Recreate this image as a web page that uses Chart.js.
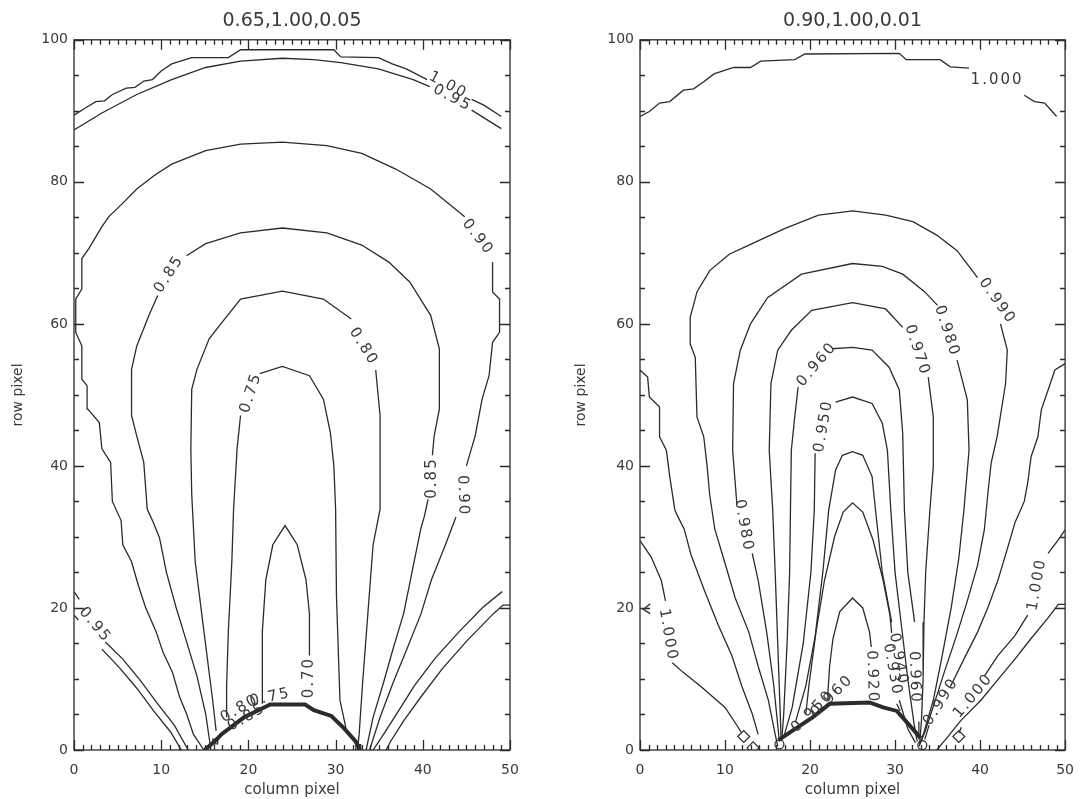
<!DOCTYPE html>
<html>
<head>
<meta charset="utf-8">
<title>Contour maps</title>
<script src="https://cdn.jsdelivr.net/npm/chart.js@4.4.1/dist/chart.umd.min.js"></script>
<style>
    html, body { margin: 0; padding: 0; background: #fff; }
    #wrap { position: relative; width: 1086px; height: 799px; }
    canvas { position: absolute; top: 0; }
    #leftChart { left: 0; }
    #rightChart { left: 543px; }
</style>
</head>
<body>
<div id="wrap">
    <canvas id="leftChart" width="543" height="799"></canvas>
    <canvas id="rightChart" width="543" height="799"></canvas>
</div>
<script>
// Axis ranges and tick steps
const xRange = [0, 50];
const yRange = [0, 100];
const xMajorStep = 10, xMinorStep = 1;
const yMajorStep = 20, yMinorStep = 5;

const leftTitle = '0.65,1.00,0.05';
const rightTitle = '0.90,1.00,0.01';

// ---- Left panel contours (column, row); null = gap where a label sits ----
const leftC100Top = [[0,89.4],[1.3,90.4],[2.5,91.3],[3.5,91.4],[4.4,92.3],[6,93.2],[7,93.3],[8,94.2],[9,94.4],[10,95.6],[11.2,96.6],[13.5,97.5],[17.7,97.5],[19.1,98.6],[29.8,98.6],[30.6,97.6],[34.9,97.5],[36.5,96.6],[38.1,95.9],[40.5,94.4],null,[45.6,91.6],[47,90.8],[49,89.2]];
const leftC095Top = [[0,87.3],[3.2,89.7],[7.2,92.3],[11.2,94.4],[15.1,96.1],[19.1,97],[23.9,97.4],[27.5,97.2],[30.6,96.8],[34.9,95.9],[38.9,94.4],[40.8,93.4],null,[45.6,90.1],[49,87.5]];
const leftC090 = [[14.9,0],[13.7,2.2],[12.9,5.1],[12.1,7.5],[11.3,10.9],[10.2,13.8],[9.4,16.7],[8.2,20.1],[7.4,23.1],[6.6,26.5],[5.6,28.9],[5.4,32.3],[4.4,35],[4.2,40.5],[3.2,42.4],[2.9,46.1],[1.6,48],[1.5,51.3],[0.9,52.2],[0.9,56.9],[0.2,58.8],[0.2,63.5],[0.9,64.9],[0.9,69.2],[1.7,70.6],[3.2,73.7],[4,75.1],[5.6,77],[7.2,79],[9.2,80.9],[11.2,82.5],[15.1,84.4],[19.1,85.3],[23.9,85.6],[29,85.1],[33,84],[36.9,81.8],[40.9,79],[43.3,76.6],[44.8,75.1],null,[48,68.7],[48,64.5],[48.8,63.5],[48.8,58.8],[48,57.4],[47.6,52.7],[46.8,49.4],[46,44.2],[45,40],null,[43.8,32.8],[42.6,28.9],[41,24],[39.8,19.2],[38.2,14.3],[36.6,9.5],[35.1,4.6],[33.9,0]];
const leftC085 = [[15.7,0],[15.1,5.1],[14.1,10.4],[12.9,15.3],[11.7,20.1],[10.6,25],[9.8,29.9],[9,32.3],[8.4,33.9],[8,40.5],[7.2,44.2],[6.6,47.1],[6.6,53.6],[7.2,56.9],[8.6,61.2],[9.6,64],null,[12.9,69.6],[15.1,71.3],[19.1,72.8],[23.9,73.5],[29,72.8],[33,71.1],[36.1,68.7],[38.5,65.9],[40.9,61.2],[41.9,56.5],[41.9,48],[41.3,44.2],[41.1,41.5],null,[40.6,35.3],[40.2,33],[39.8,31.3],[39,26.5],[37.8,19.2],[36.6,14.3],[35.5,9.5],[34.3,4.6],[33.5,0]];
const leftC080 = [[16.3,2.7],[15.9,7],[14.9,16.7],[13.9,26.5],[13.5,36],[13.4,42.4],[13.5,50.8],[14.1,53.6],[15.5,57.9],[16.7,59.8],[19.1,63.5],[23.9,64.6],[28.6,63.5],[31.8,60.7],null,[34.6,53.5],[35.1,47.1],[35.1,33.9],[34.3,28.9],[33.7,19.2],[33.1,9.5],[32.7,2.2],[32.5,0]];
const leftC075 = [[17.5,4.6],[17.5,9],[17.7,16.7],[18.1,26.5],[18.3,33.9],[18.7,42.4],[19.1,47.1],null,[21.3,53],[23.9,54],[27,52.7],[28.6,49.4],[29.4,44.7],[29.8,40],[30,33.9],[30.1,21.6],[30.5,7],[31.2,3]];
const leftC070 = [[21.6,6.5],[21.6,16.7],[22,24],[22.8,28.9],[24.2,31.6],[25.6,28.9],[26.6,24],[27,19.2],[27,13.3]];
const leftC095Low = [[0,22.3],[0.6,21.2],null,[3.6,15.2],[5.6,12.8],[7.6,9.8],[9.6,6.5],[11.5,3.5],[13.1,0]];
const leftC100Low = [[0,19],[0.5,18.3],null,[3.2,14.2],[5.2,11.6],[7.2,8.7],[9.2,5.4],[11.1,2.5],[12.3,0]];
const leftC095LowR = [[49.1,22.3],[46.9,20.1],[44.2,16.7],[41.4,12.9],[39,9],[37,5.1],[35.5,2.2],[34.3,0]];
const leftC100LowR = [[50,20.4],[49.2,20.4],[48.1,19.2],[45,15.3],[42.2,11.4],[39.8,7.5],[37.8,4.1],[36.3,1.2],[35.8,0]];
const leftBundle = [[15,0],[16.2,1.3],[17,2.3],[19.5,4.6],[21.5,5.8],[22.5,6.4],[26.5,6.4],[27.5,5.6],[29.5,4.8],[31,3],[32.3,1.2],[32.8,0]];
const leftSquares = [[16.2,1.2],[32.6,0.4]];

const leftLabels = [
    { text: '1.00', x: 42.9, y: 93.6, angle: 28 },
    { text: '0.95', x: 43.4, y: 91.8, angle: 28 },
    { text: '0.90', x: 46.3, y: 72.2, angle: 52 },
    { text: '0.85', x: 10.9, y: 67.0, angle: -57 },
    { text: '0.80', x: 33.2, y: 56.8, angle: 58 },
    { text: '0.75', x: 20.3, y: 50.3, angle: -72 },
    { text: '0.85', x: 41.1, y: 38.3, angle: -90 },
    { text: '0.90', x: 44.6, y: 35.8, angle: 88 },
    { text: '0.95', x: 2.4, y: 17.6, angle: 50 },
    { text: '0.70', x: 27.0, y: 10.2, angle: -90 },
    { text: '0.80', x: 19.0, y: 5.8, angle: -30 },
    { text: '0.85', x: 19.8, y: 4.6, angle: -30 },
    { text: '0.75', x: 22.5, y: 7.4, angle: -12 }
];

// ---- Right panel contours ----
const rightC1000Top = [[0,89.2],[1.1,89.9],[2.3,91.1],[3.5,91.3],[5.1,92.9],[6.3,93.1],[7.5,94.1],[8.7,95.2],[11,96.1],[13,96.1],[14.2,97],[18.2,97.2],[19.4,98],[30.5,98.1],[31.3,97.2],[35.3,97.2],[36.5,96.2],[38.7,96],null,[45.2,92.2],[46.4,91.3],[47.6,91.1],[49,89.2]];
const rightC0990 = [[16.2,0.5],[15.9,2.2],[15.1,7],[13.9,11.8],[12.8,16.6],[11.2,21.4],[10,26.3],[8.8,31.1],[8.2,35.9],[7.9,39.9],[7.5,44.1],[6.7,46.9],[6.5,55.3],[5.9,57.2],[5.9,60.9],[6.7,64.5],[8.2,67.5],[10.5,69.8],[13,71.2],[17,73.4],[21,75.3],[25,75.9],[28.9,75.3],[32.1,74.4],[34.9,72.5],[37.3,70.3],[39.7,66.5],null,[42.4,60],[43.2,56.3],[43,51.6],[42,44.1],[41.3,40.4],[40.9,35.9],[40.5,31],[39.7,26],[38.5,21],[37.2,16],[35.8,11],[34.6,6.5],[33.5,2.5],[32.8,0.5]];
const rightC0980 = [[16.4,1.2],[15.7,9.4],[14.9,16.6],[13.9,23.9],[13.2,27.7],null,[11.4,34.5],[10.9,42.2],[11,51.6],[11.8,56.3],[13,60],[15,63.7],[19,67],[25,68.5],[28.5,68.1],[30.9,67],[33.5,64.5],[35,62.6],null,[37.3,54.9],[38.5,49.3],[38.7,42.2],[38.1,33.8],[37.5,27],[36.6,20],[35.5,13],[34.5,7],[33.4,2.5],[32.9,0.8]];
const rightC0970 = [[16.6,1.5],[16.5,5],[16.2,15],[15.9,25],[15.6,34],[15.2,42.2],[15.4,51.6],[16.2,56.3],[17.8,59.1],[20.2,61.9],[25,63],[28.9,62.1],[30.9,59.5],null,[33.9,52.5],[34.5,46.9],[34.5,39.9],[34.1,33.8],[33.6,25],[33.4,18],[33.3,10],[33.1,4],[32.9,1]];
const rightC0960 = [[16.7,1.8],[16.9,5],[17.3,15],[17.6,25],[17.7,34],[17.8,42.2],[18.2,46.9],[18.6,51.1],null,[22.6,56.5],[25,56.7],[27.3,56.3],[29.3,53.9],[30.5,50.7],[30.9,44.6],[31.1,33.8],[31.5,25],[32.3,18],null,[32.8,4],[32.8,1.5]];
const rightC0950 = [[17,2.2],[17.9,6],[19.2,15],[20.1,25],[20.5,33.8],[20.6,41.8],null,[23,49],[25,49.7],[27.3,48.8],[28.5,46],[29.1,42.2],[29.5,33.8],[30,25],[30.8,17],[31.5,10],[32.2,4],[32.6,1.2]];
const rightC0940 = [[18.3,4],[19.5,9],[20.6,16],[21.5,25],[22.2,33.8],[22.6,36.6],[23,39.4],[23.8,41.5],[25,42],[26.2,41.5],[27.3,38.5],[27.7,33.8],[28.5,25],[29.6,18],null,[30.5,7],[31.5,3],[32.4,1]];
const rightC0930 = [[19.5,5.1],[19.9,9.4],[20.7,16.6],[21.7,23.9],[22.9,30.1],[23.9,33.5],[25,34.8],[26.2,33.5],[27.4,29.6],[28.6,23.9],[29.4,19],[29.6,16.5],null,[30.2,6.5],[30.6,5.5]];
const rightC0920 = [[22.1,7],[22.1,8],[22.3,11.8],[22.7,15.7],[23.5,19.5],[25,21.4],[26.2,20],[27,16.6],[27.2,14.5]];
const rightC1000LowA = [[0,29.5],[1.3,27.2],[2.5,23.9],[3,21],null,[3.8,12.3],[5,11],[7.2,8.9],[10,6],[11.6,3.1],[11.9,2.5]];
const rightC1000Nick = [[1.2,20.6],[0.4,19.8],[1.2,19.2]];
const rightC1000LowB = [[0,53.5],[0.9,52.5],[1.1,49.7],[2.3,48.3],[2.3,44.1],[3.1,42.2],[3.5,38.5],[4.1,33.8],[4.4,33],[5.2,31.1],[6,27.5],[7.6,22.4],[9.2,17.6],[10.8,13.3],[12,8.9],[13.2,5.1],[13.9,2.2]];
const rightC1000LowR1 = [[50,20.5],[49.2,20.5],[48,18.6],[46,15.7],[44.1,12.8],[42.1,9.9],[40.1,7],[37.7,4.1],[36.1,1.7],[34.9,0]];
const rightC1000LowR2 = [[50,31],[49.2,29.6],[48,27.7],null,[45.6,19],[44.1,16.1],[42.1,13.3],[40.5,10.4],null,[37.8,3.2],[37.5,2.4]];
const rightC1000LowR3 = [[50,54.4],[48.8,53.5],[48,50.7],[47.2,47.9],[46.8,44.1],[46,41.3],[45.6,37.6],[45.2,35],[44.1,32],[43.3,28.7],[42.1,23.9],[40.9,20],[39.7,16.6],[38.1,12.8],[36.5,8.9],null,[34,3.5],[33.5,1.5]];
const rightBundle = [[16.3,1.4],[17.9,2.7],[20.3,4.6],[22.3,6.5],[27,6.7],[28.6,6],[30.2,5.5],[31.4,3.9],[33,1.7]];
const rightDiamonds = [[12.2,1.9],[13.3,0.3],[37.5,1.9]];
const rightCircles = [[16.4,0.8],[33.2,0.7]];

const rightLabels = [
    { text: '1.000', x: 42.0, y: 94.3, angle: 0 },
    { text: '0.990', x: 42.0, y: 63.2, angle: 55 },
    { text: '0.980', x: 36.1, y: 59.0, angle: 72 },
    { text: '0.970', x: 32.6, y: 56.3, angle: 72 },
    { text: '0.960', x: 20.8, y: 54.3, angle: -50 },
    { text: '0.950', x: 21.6, y: 45.6, angle: -80 },
    { text: '0.980', x: 12.2, y: 31.6, angle: 80 },
    { text: '1.000', x: 3.3, y: 16.2, angle: 80 },
    { text: '1.000', x: 46.7, y: 23.3, angle: -80 },
    { text: '0.920', x: 27.3, y: 10.3, angle: 88 },
    { text: '0.930', x: 29.7, y: 11.3, angle: 80 },
    { text: '0.940', x: 30.4, y: 12.8, angle: 80 },
    { text: '0.960', x: 32.3, y: 10.2, angle: 88 },
    { text: '0.950', x: 20.3, y: 5.4, angle: -45 },
    { text: '0.960', x: 22.6, y: 7.6, angle: -45 },
    { text: '0.990', x: 35.4, y: 6.8, angle: -58 },
    { text: '1.000', x: 39.2, y: 7.6, angle: -50 }
];

const INK = '#2b2b2b';
const FONT = 'DejaVu Sans';

// [x, y] pairs -> chart points; null breaks the line
function toPoints(arr) {
    return arr.map(p => p ? { x: p[0], y: p[1] } : { x: null, y: null });
}

function contourSet(arr, width) {
    return {
        data: toPoints(arr),
        showLine: true,
        borderColor: INK,
        borderWidth: width || 1.3,
        pointRadius: 0,
        spanGaps: false,
        tension: 0
    };
}

function markSet(arr, style, radius) {
    return {
        data: toPoints(arr),
        showLine: false,
        pointStyle: style,
        pointRadius: radius,
        borderColor: INK,
        borderWidth: 1.2,
        backgroundColor: 'rgba(0,0,0,0)'
    };
}

// Frame with inward ticks on all four sides
const frameTicks = {
    id: 'frameTicks',
    afterDatasetsDraw(chart) {
        const { ctx, chartArea: a, scales: { x, y } } = chart;
        ctx.save();
        ctx.strokeStyle = INK;
        ctx.lineWidth = 1.3;
        ctx.strokeRect(a.left, a.top, a.width, a.height);
        ctx.beginPath();
        for (let v = xRange[0]; v <= xRange[1]; v += xMinorStep) {
            const px = Math.round(x.getPixelForValue(v)) + 0.5;
            const len = v % xMajorStep === 0 ? 10 : 5;
            ctx.moveTo(px, a.bottom); ctx.lineTo(px, a.bottom - len);
            ctx.moveTo(px, a.top); ctx.lineTo(px, a.top + len);
        }
        for (let v = yRange[0]; v <= yRange[1]; v += yMinorStep) {
            const py = Math.round(y.getPixelForValue(v)) + 0.5;
            const len = v % yMajorStep === 0 ? 10 : 5;
            ctx.moveTo(a.left, py); ctx.lineTo(a.left + len, py);
            ctx.moveTo(a.right, py); ctx.lineTo(a.right - len, py);
        }
        ctx.stroke();
        ctx.restore();
    }
};

// Rotated level labels placed on the contour gaps
const levelLabels = {
    id: 'levelLabels',
    afterDatasetsDraw(chart, args, opts) {
        const { ctx, scales: { x, y } } = chart;
        ctx.save();
        ctx.fillStyle = '#3a3a3a';
        ctx.font = '15px "' + FONT + '"';
        ctx.letterSpacing = '2px';
        ctx.textAlign = 'center';
        ctx.textBaseline = 'middle';
        (opts.items || []).forEach(l => {
            ctx.save();
            ctx.translate(x.getPixelForValue(l.x), y.getPixelForValue(l.y));
            ctx.rotate(l.angle * Math.PI / 180);
            ctx.fillText(l.text, 0, 0);
            ctx.restore();
        });
        ctx.restore();
    }
};

function drawPanel(canvasId, title, datasets, labels, yAxisWidth, padRight, yTitlePad) {
    const ctx = document.getElementById(canvasId).getContext('2d');
    return new Chart(ctx, {
        type: 'scatter',
        data: { datasets: datasets },
        plugins: [frameTicks, levelLabels],
        options: {
            responsive: false,
            animation: false,
            devicePixelRatio: 1,
            layout: { padding: { left: 0, right: padRight, top: 0, bottom: 0 } },
            plugins: {
                legend: { display: false },
                tooltip: { enabled: false },
                title: {
                    display: true,
                    text: title,
                    fullSize: false,
                    color: '#3a3a3a',
                    font: { family: FONT, size: 19, weight: 'normal' },
                    padding: { top: 10, bottom: 7 }
                },
                levelLabels: { items: labels }
            },
            scales: {
                x: {
                    type: 'linear',
                    min: xRange[0],
                    max: xRange[1],
                    grid: { display: false, drawTicks: false },
                    border: { display: false },
                    ticks: { stepSize: xMajorStep, color: '#3a3a3a', padding: 12, font: { family: FONT, size: 14 } },
                    title: { display: true, text: 'column pixel', color: '#3a3a3a', font: { family: FONT, size: 15 }, padding: { top: 0, bottom: 0 } },
                    afterFit: s => { s.height = 49; }
                },
                y: {
                    type: 'linear',
                    min: yRange[0],
                    max: yRange[1],
                    grid: { display: false, drawTicks: false },
                    border: { display: false },
                    ticks: { stepSize: yMajorStep, color: '#3a3a3a', padding: 6, font: { family: FONT, size: 14 } },
                    title: { display: true, text: 'row pixel', color: '#3a3a3a', font: { family: FONT, size: 14 }, padding: { top: yTitlePad, bottom: 0 } },
                    afterFit: s => { s.width = yAxisWidth; }
                }
            }
        }
    });
}

const leftSets = [leftC100Top, leftC095Top, leftC090, leftC085, leftC080, leftC075, leftC070,
    leftC095Low, leftC100Low, leftC095LowR, leftC100LowR].map(c => contourSet(c));
leftSets.push(contourSet(leftBundle, 4));
leftSets.push(markSet(leftSquares, 'rect', 3.5));

const rightSets = [rightC1000Top, rightC0990, rightC0980, rightC0970, rightC0960, rightC0950,
    rightC0940, rightC0930, rightC0920, rightC1000LowA, rightC1000Nick, rightC1000LowB,
    rightC1000LowR1, rightC1000LowR2, rightC1000LowR3].map(c => contourSet(c));
rightSets.push(contourSet(rightBundle, 4));
rightSets.push(markSet(rightDiamonds, 'rectRot', 6));
rightSets.push(markSet(rightCircles, 'circle', 4.5));

drawPanel('leftChart', leftTitle, leftSets, leftLabels, 74, 33, 10);
drawPanel('rightChart', rightTitle, rightSets, rightLabels, 97, 12, 30);
</script>
</body>
</html>
